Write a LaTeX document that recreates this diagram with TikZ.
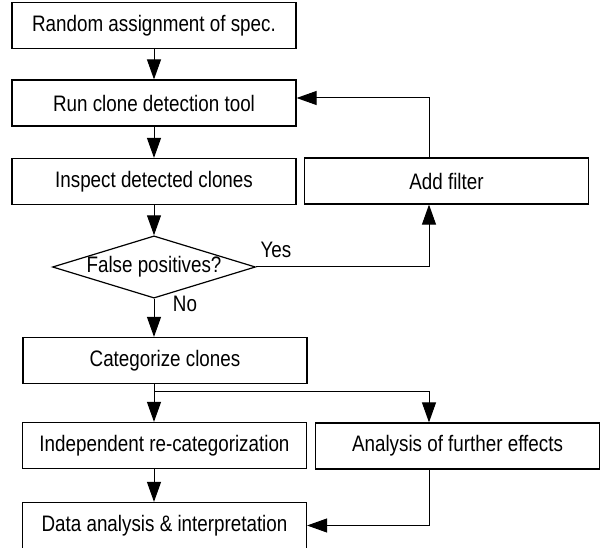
\documentclass[tikz,border=0pt]{standalone}
\usepackage{fontspec}
\setmainfont{Liberation Sans}[FakeStretch=0.84]
\usetikzlibrary{arrows.meta,shapes.geometric}

\begin{document}
\begin{tikzpicture}[x=0.75pt, y=-0.75pt, font=\fontsize{16.8}{20}\selectfont,
  stepbox/.style={draw, line width=0.9pt, minimum width=213pt, minimum height=34.5pt, inner sep=0pt},
  choice/.style={draw, diamond, line width=0.9pt, aspect=3.26, inner sep=0pt, minimum width=149pt, minimum height=45.75pt},
  flow/.style={line width=0.75pt, -{Triangle[length=15pt,width=10.5pt]}}]
  \useasboundingbox (0,0) rectangle (600,548);

  % Main column
  \node[stepbox] (spec) at (154,25.5) {Random assignment of spec.};
  \node[stepbox] (run) at (154,103) {Run clone detection tool};
  \node[stepbox] (inspect) at (154,181.5) {Inspect detected clones};
  \node[choice] (check) at (154,267) {False positives?};
  \node[stepbox] (categorize) at (165,360.5) {Categorize clones};
  \node[stepbox] (recat) at (164.5,445.5) {Independent re-categorization};
  \node[stepbox] (interpret) at (164.5,525.5) {Data analysis \& interpretation};

  % Side column
  \node[stepbox] (filter) at (446.5,181) {Add filter};
  \node[stepbox] (effects) at (457.5,446) {Analysis of further effects};
  \coordinate (side) at (429,0);

  % Decision labels
  \node (yes) at (276,250) {Yes};
  \node (no) at (185,304) {No};

  % Arrows
  \draw[flow] (spec) -- (run);
  \draw[flow] (run) -- (inspect);
  \draw[flow] (inspect) -- (check);
  \draw[flow] (check) -- (check |- categorize.north);
  \draw[flow] (check.east) -| (filter.south -| side);
  \draw[flow] (filter.north -| side) |- ([yshift=3.75pt]run.east);
  \draw (categorize.south -| check) -- ++(0,7) coordinate (split);
  \draw[flow] (split) -- (recat.north -| check);
  \draw[flow] (split) -| (effects.north -| side);
  \draw[flow] (recat.south -| check) -- (interpret.north -| check);
  \draw[flow] (effects.south -| side) |- (interpret.east);

\end{tikzpicture}
\end{document}
